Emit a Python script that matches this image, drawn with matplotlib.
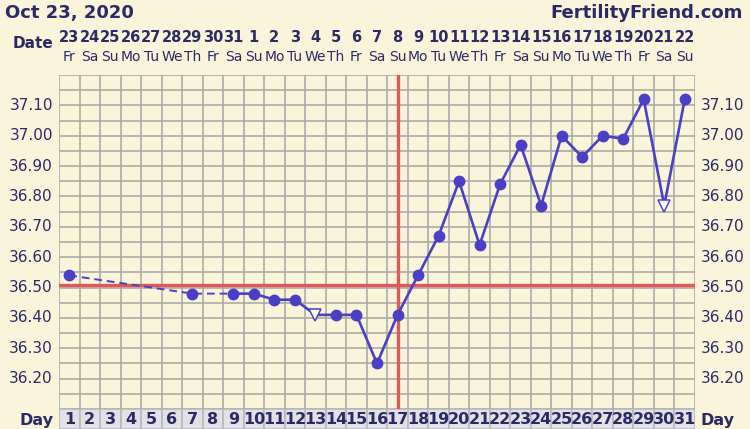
import matplotlib.pyplot as plt

days = list(range(1, 32))
dates = ["23", "24", "25", "26", "27", "28", "29", "30", "31", "1", "2", "3", "4", "5", "6",
         "7", "8", "9", "10", "11", "12", "13", "14", "15", "16", "17", "18", "19", "20", "21", "22"]
weekdays = ["Fr", "Sa", "Su", "Mo", "Tu", "We", "Th"] * 5
weekdays = weekdays[:31]

# recorded temps (missing days left out)
temp_days = [1, 7, 9, 10, 11, 12, 13, 14, 15, 16, 17, 18, 19, 20, 21, 22,
             23, 24, 25, 26, 27, 28, 29, 30, 31]
temps = [36.54, 36.48, 36.48, 36.48, 36.46, 36.46, 36.41, 36.41, 36.41, 36.25, 36.41,
         36.54, 36.67, 36.85, 36.64, 36.84, 36.97, 36.77, 37.00, 36.93, 37.00, 36.99,
         37.12, 36.77, 37.12]
open_days = [13, 30]   # discarded/odd temps drawn as open triangles
coverline = 36.51
ovulation_day = 17

bg = "#faf5da"
ink = "#2b2a66"
blue = "#4b3fc6"
red = "#e05858"
gridc = "#acaca6"

fig = plt.figure(figsize=(7.5, 4.29), dpi=100, facecolor=bg)
ax = fig.add_axes([59/750, 20/429, 636/750, 334/429])
ax.set_facecolor(bg)
ax.set_xlim(0.5, 31.5)
ax.set_ylim(36.10, 37.20)

for x in [d + 0.5 for d in range(0, 32)]:
    ax.axvline(x, color=gridc, lw=1.2, zorder=1)
for i in range(23):
    ax.axhline(36.10 + i * 0.05, color=gridc, lw=1.2, zorder=1)

ax.axhline(coverline, color=red, lw=2.4, zorder=2)
ax.axvline(ovulation_day, color=red, lw=2.4, zorder=2)

# dashed part across missing days, solid afterwards
k = temp_days.index(9)
ax.plot(temp_days[:k + 1], temps[:k + 1], color=blue, lw=1.4, ls=(0, (4, 2.5)), zorder=3)
ax.plot(temp_days[k:], temps[k:], color=blue, lw=1.9, zorder=3)

fd = [d for d in temp_days if d not in open_days]
ft = [t for d, t in zip(temp_days, temps) if d not in open_days]
ax.plot(fd, ft, "o", color=blue, ms=7.5, zorder=4)
od = [d for d in temp_days if d in open_days]
ot = [t for d, t in zip(temp_days, temps) if d in open_days]
ax.plot(od, ot, "v", mfc="white", mec=blue, mew=1.1, ms=9, zorder=4)

ax.set_xticks([])
ax.set_yticks([])
for s in ax.spines.values():
    s.set_visible(False)

for i in range(10):
    v = 36.20 + i * 0.1
    ax.text(0.5 - 0.3, v, f"{v:.2f}", ha="right", va="center", fontsize=11, color=ink)
    ax.text(31.5 + 0.3, v, f"{v:.2f}", ha="left", va="center", fontsize=11, color=ink)

for d, dt, wd in zip(days, dates, weekdays):
    ax.text(d, 37.20 + 0.122, dt, ha="center", va="center", fontsize=10.5, fontweight="bold",
            color=ink)
    ax.text(d, 37.20 + 0.058, wd, ha="center", va="center", fontsize=10, color=ink)
ax.text(0.5 - 0.25, 37.20 + 0.105, "Date", ha="right", va="center", fontsize=11,
        fontweight="bold", color=ink)

# day number row
dx = fig.add_axes([59/750, 0, 636/750, 20/429])
dx.set_xlim(0.5, 31.5)
dx.set_ylim(0, 1)
dx.bar(days, [1] * 31, width=1, color="#e2e1e6", edgecolor="#b8b8c0", lw=1.2)
for d in days:
    dx.text(d, 0.45, str(d), ha="center", va="center", fontsize=11.5, fontweight="bold",
            color=ink)
dx.axis("off")
fig.text(54/750, 9/429, "Day", ha="right", va="center", fontsize=11.5, fontweight="bold", color=ink)
fig.text(700/750, 9/429, "Day", ha="left", va="center", fontsize=11.5, fontweight="bold", color=ink)

fig.text(5/750, 1 - 13/429, "Oct 23, 2020", ha="left", va="center", fontsize=13,
         fontweight="bold", color=ink)
fig.text(743/750, 1 - 13/429, "FertilityFriend.com", ha="right", va="center", fontsize=13,
         fontweight="bold", color=ink)

plt.savefig("out.png", dpi=100, facecolor=bg)
